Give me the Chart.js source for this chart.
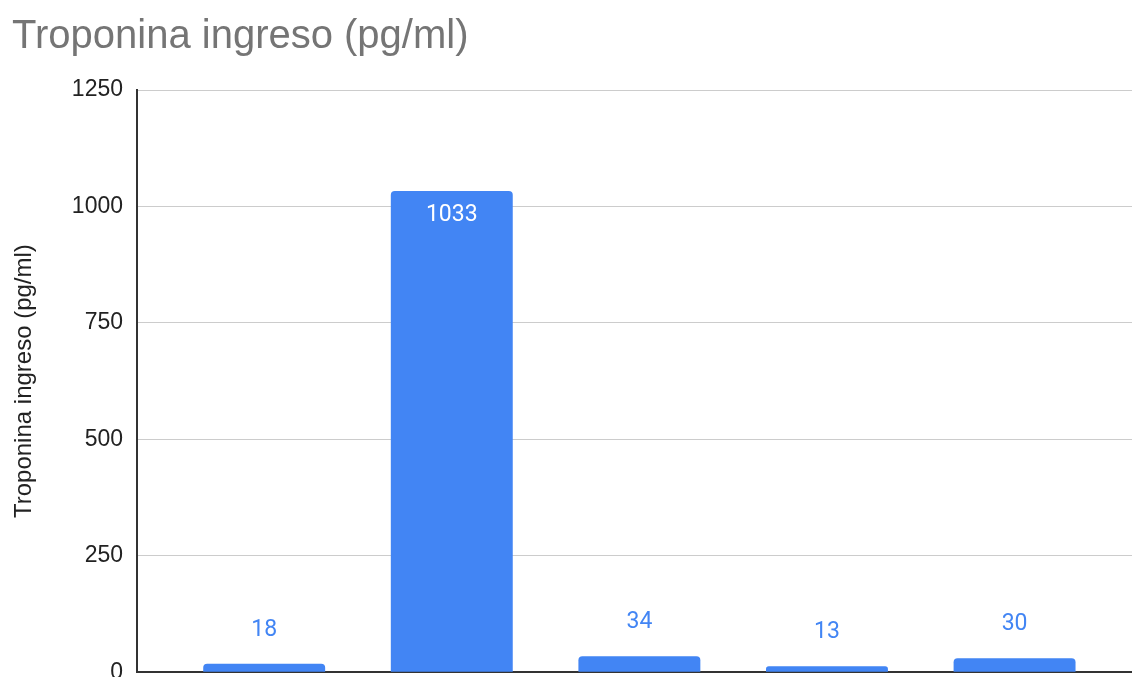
<!DOCTYPE html>
<html>
<head>
<meta charset="utf-8">
<script src="https://cdn.jsdelivr.net/npm/chart.js@4"></script>
<style>
  html, body { margin: 0; padding: 0; background: #fff; overflow: hidden; }
  #wrap { position: relative; width: 1132px; height: 700px; }
</style>
</head>
<body>
<div id="wrap"><canvas id="troponinaChart"></canvas></div>
<script>
const titulo = "Troponina ingreso (pg/ml)";
const valores = [18, 1033, 34, 13, 30];
const yTicks = [0, 250, 500, 750, 1000, 1250];

const azul = "#4285f4";

// value labels: white inside tall bars, blue above short ones
const etiquetas = {
    id: "etiquetas",
    afterDatasetsDraw(chart) {
        const ctx = chart.ctx;
        const meta = chart.getDatasetMeta(0);
        ctx.save();
        ctx.font = "23px Roboto";
        ctx.textAlign = "center";
        ctx.textBaseline = "middle";
        meta.data.forEach((bar, i) => {
            const alto = bar.base - bar.y;
            if (alto > 60) {
                ctx.fillStyle = "#ffffff";
                ctx.fillText(String(valores[i]), bar.x, bar.y + 24);
            } else {
                ctx.fillStyle = azul;
                ctx.fillText(String(valores[i]), bar.x, bar.y - 34);
            }
        });
        ctx.restore();
    }
};

let troponinaChart = null;

function loadTroponinaChart() {
    const ctx = document.getElementById("troponinaChart");
    if (!ctx) return;
    if (troponinaChart) troponinaChart.destroy();

    troponinaChart = new Chart(ctx, {
        type: "bar",
        data: {
            datasets: [{
                label: titulo,
                data: valores.map((v, i) => ({ x: i + 1, y: v })),
                backgroundColor: azul,
                borderRadius: 4,
                categoryPercentage: 1,
                barPercentage: 0.65
            }]
        },
        options: {
            responsive: true,
            maintainAspectRatio: false,
            animation: false,
            layout: { padding: { left: 12, top: 0, right: 0, bottom: 27 } },
            plugins: {
                legend: { display: false },
                tooltip: { enabled: false },
                title: {
                    display: true,
                    text: titulo,
                    align: "start",
                    color: "#757575",
                    font: { family: "'Liberation Sans', Arial, sans-serif", size: 40, weight: "normal", lineHeight: 1.2 },
                    padding: { top: 13, bottom: 29 }
                }
            },
            scales: {
                x: {
                    type: "linear",
                    offset: false,
                    min: 0.322,
                    max: 5.626,
                    // one tick per bar so the bar width follows the bar spacing
                    afterBuildTicks(scale) {
                        scale.ticks = valores.map((v, i) => ({ value: i + 1 }));
                    },
                    ticks: { display: false },
                    grid: { display: false, drawTicks: false },
                    border: { display: true, color: "#333", width: 2 }
                },
                y: {
                    min: 0,
                    max: 1250,
                    afterBuildTicks(scale) {
                        scale.ticks = yTicks.map(v => ({ value: v }));
                    },
                    afterFit(scale) {
                        scale.width = 125;
                    },
                    ticks: {
                        color: "#222",
                        padding: 14,
                        font: { family: "'Liberation Sans', Arial, sans-serif", size: 23 },
                        callback: v => String(v)
                    },
                    grid: { color: "#cccccc", lineWidth: 1, drawTicks: false },
                    border: { display: true, color: "#333", width: 2 },
                    title: {
                        display: true,
                        text: titulo,
                        color: "#222",
                        padding: 0,
                        font: { family: "'Liberation Sans', Arial, sans-serif", size: 24, lineHeight: 1 }
                    }
                }
            }
        },
        plugins: [etiquetas]
    });
}

document.addEventListener("DOMContentLoaded", () => {
    loadTroponinaChart();
});
</script>
</body>
</html>
